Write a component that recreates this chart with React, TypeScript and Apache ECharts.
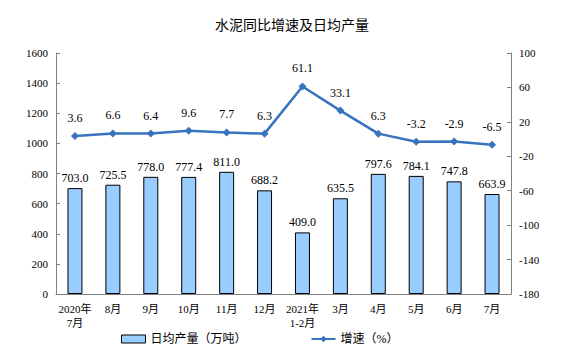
import React, { useEffect, useRef } from "react";
import * as echarts from "echarts";

const categories = ["2020年\n7月", "8月", "9月", "10月", "11月", "12月", "2021年\n1-2月", "3月", "4月", "5月", "6月", "7月"];
const dailyOutput = [703.0, 725.5, 778.0, 777.4, 811.0, 688.2, 409.0, 635.5, 797.6, 784.1, 747.8, 663.9];
const growthRate = [3.6, 6.6, 6.4, 9.6, 7.7, 6.3, 61.1, 33.1, 6.3, -3.2, -2.9, -6.5];

const serif = "'Liberation Serif', 'Times New Roman', 'Noto Sans CJK SC', serif";

export default function App() {
  const ref = useRef<HTMLDivElement>(null);
  useEffect(() => {
    if (!ref.current) return;
    const chart = echarts.init(ref.current, null, { renderer: "svg" });
    chart.setOption({
      animation: false,
      backgroundColor: "#ffffff",
      title: {
        text: "水泥同比增速及日均产量",
        left: "center",
        top: 4,
        textStyle: { fontFamily: "'Noto Sans CJK SC', sans-serif", fontSize: 14, fontWeight: "normal", color: "#000" },
      },
      grid: { left: 48, right: 65, top: 45, bottom: 62 },
      legend: {
        bottom: 6,
        left: 108,
        itemGap: 64,
        itemWidth: 24,
        itemHeight: 8,
        textStyle: { fontFamily: serif, fontSize: 12, color: "#000" },
        data: [
          { name: "日均产量（万吨）", icon: "rect", itemStyle: { color: "#99CCFF", borderColor: "#000", borderWidth: 1 } },
          { name: "增速（%）" },
        ],
      },
      xAxis: {
        type: "category",
        data: categories,
        axisLine: { lineStyle: { color: "#808080" } },
        axisTick: { inside: true, length: 4, lineStyle: { color: "#808080" } },
        axisLabel: { fontFamily: serif, fontSize: 11, color: "#000", interval: 0, lineHeight: 14 },
      },
      yAxis: [
        {
          type: "value",
          min: 0,
          max: 1600,
          interval: 200,
          splitLine: { show: false },
          axisLine: { show: true, lineStyle: { color: "#808080" } },
          axisTick: { show: true, inside: true, length: 4, lineStyle: { color: "#808080" } },
          axisLabel: { fontFamily: serif, fontSize: 11, color: "#000", margin: 8, formatter: (v: number) => String(v) },
        },
        {
          type: "value",
          min: -180,
          max: 100,
          interval: 40,
          splitLine: { show: false },
          axisLine: { show: true, lineStyle: { color: "#808080" } },
          axisTick: { show: true, inside: true, length: 4, lineStyle: { color: "#808080" } },
          axisLabel: { fontFamily: serif, fontSize: 11, color: "#000", margin: 8, formatter: (v: number) => String(v) },
        },
      ],
      series: [
        {
          name: "日均产量（万吨）",
          type: "bar",
          data: dailyOutput,
          barWidth: 15,
          itemStyle: { color: "#99CCFF", borderColor: "#000", borderWidth: 1 },
          label: {
            show: true,
            position: "top",
            distance: 4,
            formatter: (p: any) => Number(p.value).toFixed(1),
            fontFamily: serif,
            fontSize: 12,
            color: "#000",
          },
        },
        {
          name: "增速（%）",
          type: "line",
          yAxisIndex: 1,
          data: growthRate,
          symbol: "diamond",
          symbolSize: 8,
          lineStyle: { color: "#3873C0", width: 2.5 },
          itemStyle: { color: "#3873C0" },
          label: {
            show: true,
            position: "top",
            distance: 8,
            formatter: (p: any) => Number(p.value).toFixed(1),
            fontFamily: serif,
            fontSize: 12,
            color: "#000",
          },
        },
      ],
    });
    return () => chart.dispose();
  }, []);
  return <div ref={ref} style={{ width: 568, height: 348 }} />;
}
